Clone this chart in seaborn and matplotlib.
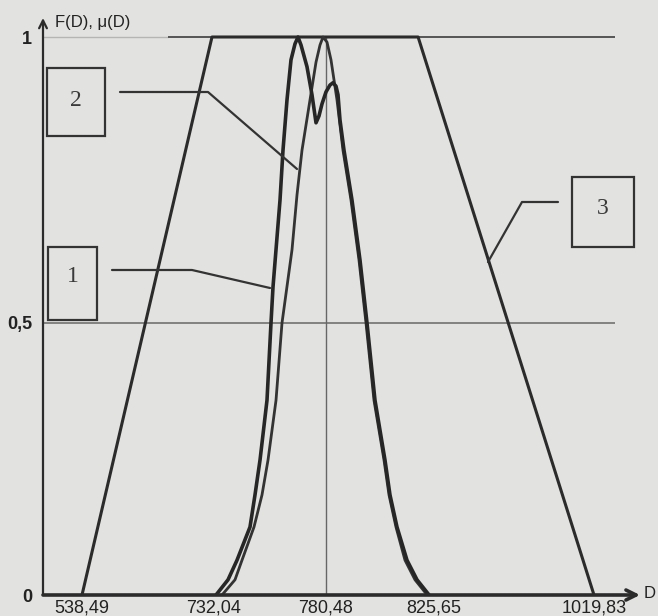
import numpy as np
import pandas as pd
import matplotlib
matplotlib.use("Agg")
import matplotlib.pyplot as plt
import seaborn as sns
from matplotlib.lines import Line2D
from matplotlib.patches import Rectangle
from matplotlib.transforms import IdentityTransform

# ---------------- data ----------------
tick_D = [538.49, 732.04, 780.48, 825.65, 1019.83]
tick_labels = ["538,49", "732,04", "780,48", "825,65", "1019,83"]
ytick_vals = [0, 0.5, 1]
ytick_labels = ["0", "0,5", "1"]

# curve 3: trapezoidal membership function
trap_D = [538.49, 729.1, 819.0, 1019.83]
trap_mu = [0.0, 1.0, 1.0, 0.0]

# curve 1: bimodal
c1_D = [732.90, 738.10, 741.99, 747.61, 749.77, 751.94, 754.96, 756.69, 757.56,
        760.59, 761.88, 763.61, 765.34, 767.07, 768.37, 769.67, 772.26, 774.42,
        776.16, 777.45, 778.75, 780.48, 782.15, 783.41, 784.66, 785.50, 786.33,
        788.01, 791.35, 794.70, 797.63, 800.97, 805.15, 807.24, 810.17, 814.35,
        818.54, 823.60]
c1_F = [0.0, 0.028, 0.064, 0.125, 0.184, 0.248, 0.358, 0.5, 0.563,
        0.715, 0.802, 0.890, 0.960, 0.988, 1.0, 0.986, 0.948, 0.899,
        0.850, 0.862, 0.883, 0.904, 0.916, 0.920, 0.914, 0.899, 0.855,
        0.802, 0.715, 0.610, 0.5, 0.358, 0.248, 0.184, 0.125, 0.064,
        0.028, 0.0]

# curve 2: unimodal
c2_D = [735.50, 741.12, 744.15, 749.34, 752.80, 755.40, 758.86, 761.45, 765.78,
        767.94, 770.10, 773.56, 776.16, 777.89, 779.19, 780.90, 782.57, 785.08,
        787.59, 790.93, 794.28, 797.21, 800.55, 804.74, 806.83, 809.75, 813.52,
        817.70, 822.80]
c2_F = [0.0, 0.028, 0.064, 0.125, 0.184, 0.248, 0.358, 0.5, 0.628,
        0.724, 0.802, 0.890, 0.956, 0.986, 1.0, 0.991, 0.960, 0.890,
        0.802, 0.715, 0.610, 0.5, 0.358, 0.248, 0.184, 0.125, 0.064,
        0.028, 0.0]

mode_D = 780.48

# ---------------- layout (schematic, piecewise-linear axes) ----------------
W, H = 658, 616
X_PX = [82, 214, 326, 434, 594]
Y_V = [0.0, 0.5, 1.0]
Y_PX = [0, 272, 558]


def pw(x, xp, fp):
    x = np.asarray(x, dtype=float)
    y = np.interp(x, xp, fp)
    y = np.where(x < xp[0], fp[0] + (x - xp[0]) * (fp[1] - fp[0]) / (xp[1] - xp[0]), y)
    y = np.where(x > xp[-1], fp[-1] + (x - xp[-1]) * (fp[-1] - fp[-2]) / (xp[-1] - xp[-2]), y)
    return y


fx = lambda d: pw(d, tick_D, X_PX)
ix = lambda p: pw(p, X_PX, tick_D)
fy = lambda v: pw(v, Y_V, Y_PX)
iy = lambda p: pw(p, Y_PX, Y_V)

sns.set_theme(style="white")
BG = "#e2e2e0"
INK = "#2b2b2b"
plt.rcParams["font.family"] = ["Liberation Sans Narrow", "Liberation Sans", "DejaVu Sans"]

fig = plt.figure(figsize=(W / 100, H / 100), dpi=100, facecolor=BG)
ax = fig.add_axes([43 / W, (H - 595) / H, (640 - 43) / W, (595 - 18) / H])
ax.set_facecolor(BG)
ax.set_xscale("function", functions=(fx, ix))
ax.set_yscale("function", functions=(fy, iy))
ax.set_xlim(float(ix(43)), float(ix(640)))
ax.set_ylim(0, float(iy(595 - 18)))
for s in ax.spines.values():
    s.set_visible(False)

# reference lines
x_end = float(ix(615))
ax.hlines(1.0, float(ix(43)), float(ix(168)), color="#b5b5b3", lw=1.0)
ax.hlines(1.0, float(ix(168)), x_end, color="#555555", lw=1.4)
ax.hlines(0.5, float(ix(43)), x_end, color="#7a7a78", lw=1.3)
ax.vlines(mode_D, 0, 1.0, color="#666666", lw=1.0)

df_trap = pd.DataFrame({"D": trap_D, "mu": trap_mu})
df1 = pd.DataFrame({"D": c1_D, "F": c1_F})
df2 = pd.DataFrame({"D": c2_D, "F": c2_F})
sns.lineplot(data=df_trap, x="D", y="mu", sort=False, color=INK, lw=2.2, ax=ax)
sns.lineplot(data=df2, x="D", y="F", sort=False, color="#333333", lw=2.0, ax=ax)
sns.lineplot(data=df1, x="D", y="F", sort=False, color="#262626", lw=2.6, ax=ax)

ax.set_xlabel("")
ax.set_ylabel("")
ax.set_xticks(tick_D)
ax.set_xticklabels(tick_labels, fontsize=13, color="#222222")
ax.set_yticks(ytick_vals)
ax.set_yticklabels(ytick_labels, fontsize=13, color="#222222", fontweight="bold")
ax.tick_params(axis="x", length=0, pad=3)
ax.tick_params(axis="y", length=0, pad=8)
ax.minorticks_off()

# axes with arrows
ax.annotate("", xy=(1.0, 0), xytext=(0, 0), xycoords="axes fraction",
            arrowprops=dict(arrowstyle="->", lw=2.6, color=INK, mutation_scale=18,
                            shrinkA=0, shrinkB=0), annotation_clip=False)
ax.annotate("", xy=(0, 1.0), xytext=(0, 0), xycoords="axes fraction",
            arrowprops=dict(arrowstyle="->", lw=1.6, color=INK, mutation_scale=14,
                            shrinkA=0, shrinkB=0), annotation_clip=False)

fig.text(55 / W, 1 - 22 / H, "F(D), μ(D)", fontsize=12, color="#222222",
         ha="left", va="center")
fig.text(644 / W, 1 - 593 / H, "D", fontsize=12, color="#222222",
         ha="left", va="center")

# callout boxes
ID = IdentityTransform()


def box(x0, y0, x1, y1, label, tx, ty):
    fig.add_artist(Rectangle((x0, H - y1), x1 - x0, y1 - y0, transform=ID,
                             fill=False, lw=1.6, ec="#333333"))
    fig.text(tx / W, 1 - ty / H, label, fontsize=17, color="#3a3a3a",
             family=["Liberation Serif", "DejaVu Serif"], ha="center", va="center")


def leader(pts):
    xs = [p[0] for p in pts]
    ys = [H - p[1] for p in pts]
    fig.add_artist(Line2D(xs, ys, transform=ID, color="#333333", lw=1.6))


box(47, 68, 105, 136, "2", 76, 101)
leader([(120, 92), (208, 92), (297, 169)])
box(48, 247, 97, 320, "1", 73, 277)
leader([(112, 270), (192, 270), (270, 288)])
box(572, 177, 634, 247, "3", 603, 209)
leader([(558, 202), (522, 202), (488, 262)])

fig.savefig("out.png", dpi=100, facecolor=BG)
